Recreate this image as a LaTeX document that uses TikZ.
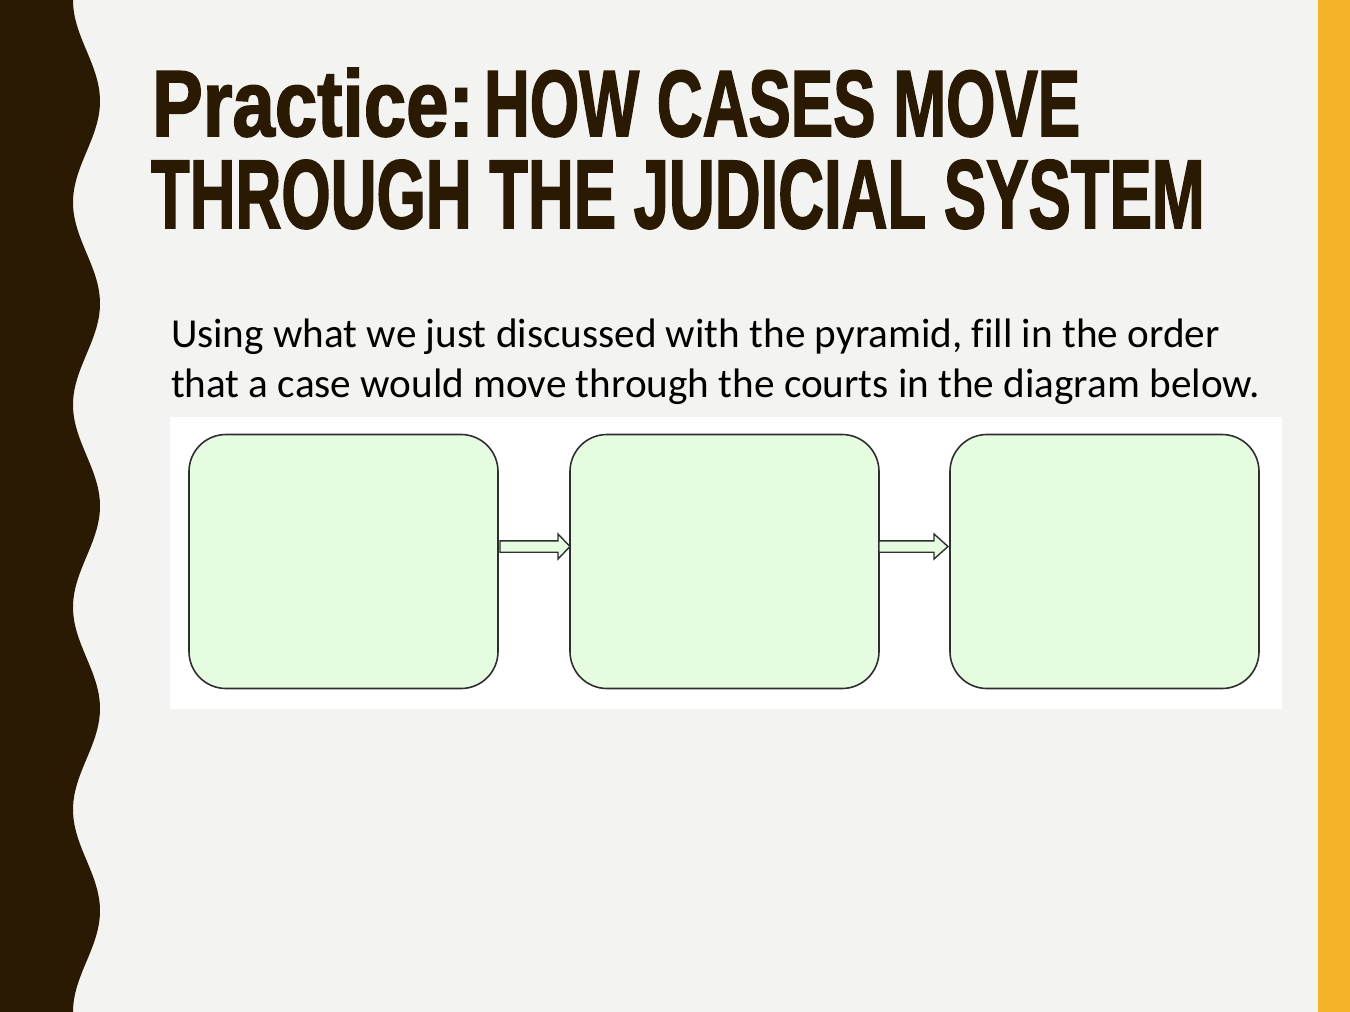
\documentclass[tikz,border=0pt]{standalone}
\usepackage{fontspec}
\setmainfont[Ligatures=NoCommon]{Carlito}
\newfontfamily\titlefont[FakeBold=2]{Liberation Sans}
\usetikzlibrary{calc}
\definecolor{bgcol}{HTML}{F3F3F1}
\definecolor{brownbar}{HTML}{2B1A03}
\definecolor{orangebar}{HTML}{F5B329}
\definecolor{boxfill}{HTML}{E6FCE0}
\definecolor{boxline}{HTML}{2E2E2E}
\tikzset{
  courtbox/.style={draw=boxline, line width=1.6pt, fill=boxfill, rounded corners=37pt,
    minimum width=309pt, minimum height=254pt, inner sep=0pt, outer sep=0pt},
  blockarrow/.style={draw=boxline, line width=1.4pt, fill=boxfill, line join=miter},
  titletext/.style={anchor=base west, inner sep=0pt, outer sep=0pt, text=brownbar},
  bodytext/.style={anchor=base west, inner sep=0pt, outer sep=0pt, text=black,
    font=\fontsize{41.2pt}{48pt}\selectfont}
}
\newcommand\myblockarr[3]{% start coordinate, tip coordinate, head length
  \draw[blockarrow] ($(#1)+(0,-5.7)$) -- ($(#2)+(-#3,-5.7)$) -- ($(#2)+(-#3,-12.5)$)
    -- (#2) -- ($(#2)+(-#3,12.5)$) -- ($(#2)+(-#3,5.7)$) -- ($(#1)+(0,5.7)$) -- cycle;}
\begin{document}
\begin{tikzpicture}[x=1pt,y=-1pt]
\useasboundingbox (0,0) rectangle (1350,1012);
\fill[bgcol] (0,0) rectangle (1350,1012);
% wavy left band
\fill[brownbar] (0,0) -- plot[domain=0:1012, samples=240, smooth] ({86.5-13.5*cos(1.77866*\x)}, \x) -- (0,1012) -- cycle;
% right band
\fill[orangebar] (1318,0) rectangle (1350,1012);
% title
\node[titletext] (title1) at (152,136) {\resizebox{928pt}{68pt}{\titlefont\bfseries \scalebox{1.2}[1]{Practice:}\kern-0.12em\ HOW CASES MOVE}};
\node[titletext] (title2) at (151,228) {\resizebox{1053pt}{68pt}{\titlefont\bfseries THROUGH THE JUDICIAL SYSTEM}};
% body
\node[bodytext] (body1) at (171,347) {Using what we just discussed with the pyramid, fill in the order};
\node[bodytext] (body2) at (171,397) {that a case would move through the courts in the diagram below.};
% diagram panel
\fill[white] (170,417) rectangle (1282,709);
\node[courtbox] (b1) at (343.5,561.5) {};
\node[courtbox] (b2) at (724.5,561.5) {};
\node[courtbox] (b3) at (1104.5,561.5) {};
\coordinate (a1s) at ($(b1.east)+(2,-15)$);
\coordinate (a1e) at ($(b2.west)+(0,-15)$);
\coordinate (a2s) at ($(b2.east)+(0,-15)$);
\coordinate (a2e) at ($(b3.west)+(-2,-15)$);
\myblockarr{a1s}{a1e}{12}
\myblockarr{a2s}{a2e}{14}
\end{tikzpicture}
\end{document}
